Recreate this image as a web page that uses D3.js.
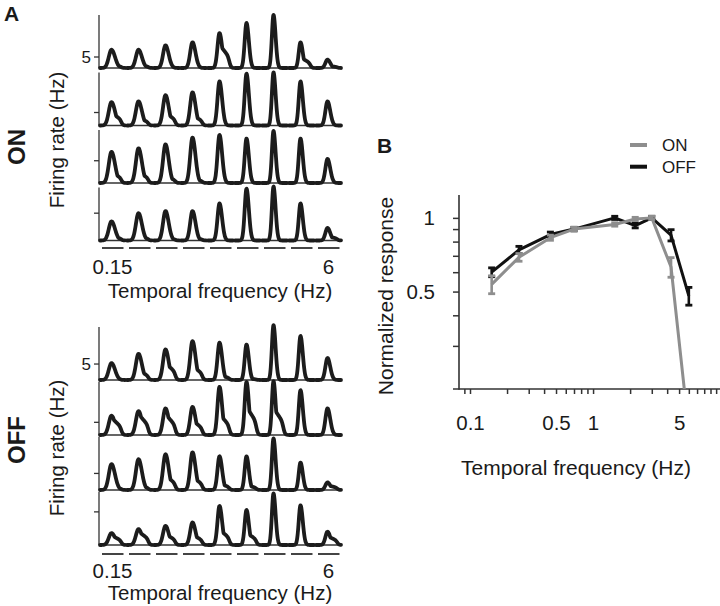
<!DOCTYPE html>
<html><head><meta charset="utf-8">
<script src="https://cdn.jsdelivr.net/npm/d3@7"></script>
<style>
body{margin:0;background:#fff}
svg{display:block}
text{font-family:"Liberation Sans",Arial,Helvetica,sans-serif;fill:#1a1a1a}
</style>
</head><body>
<svg id="c" width="720" height="606"></svg>
<script>
// ---------- Panel A data (cycle-averaged firing rate, Hz) ----------
const cycleFreqLabels = ["0.15", "6"];          // first and last stimulus frequency
const nCycles = 9;
const onPeaks = [
  [8.3, 8.3, 10.3, 11.7, 15.9, 20.5, 24.2, 11.7, 3.8],
  [9.0, 9.3, 11.7, 12.8, 17.0, 20.0, 20.5, 17.0, 9.3],
  [7.0, 7.8, 8.7, 10.2, 10.8, 10.0, 11.7, 10.0, 5.4],
  [3.5, 5.0, 5.4, 5.4, 6.8, 9.5, 9.9, 6.8, 2.3]
];
const onShoulders = [
  [1.5, 1.5, 0, 0, 11, 0, 0, 5, 1],
  [5, 3, 5, 4, 0, 0, 0, 0, 0],
  [2.5, 2.5, 1.5, 1, 0, 0, 0, 0, 0],
  [0.8, 0.8, 0.5, 0.5, 0, 0, 0, 0, 0.8]
];
const onRowMaxHz = [24.1, 20.4, 11.9, 9.7];
const offPeaks = [
  [5.3, 8.2, 9.6, 12.2, 11.7, 11.1, 17.2, 13.8, 6.9],
  [7.6, 9.4, 10.5, 11.1, 19.0, 21.0, 21.3, 17.7, 10.5],
  [7.8, 9.3, 10.8, 11.4, 10.2, 10.2, 15.6, 8.3, 2.3],
  [1.8, 2.4, 2.9, 3.4, 5.9, 5.3, 7.8, 6.0, 2.0]
];
const offShoulders = [
  [0, 3, 5.5, 4.5, 1.5, 0.5, 0, 0, 0],
  [7, 8.5, 8.5, 6, 8.5, 11.5, 11, 0, 0],
  [1, 1.5, 4.5, 4, 2, 1.5, 0, 0, 1.5],
  [1.5, 2.1, 1.7, 1.6, 2.4, 1.9, 0, 0, 1.4]
];
const offRowMaxHz = [16.6, 20.9, 16.0, 8.0];
const rowTickHz = 5;

// ---------- Panel B data (normalized response) ----------
const freqs   = [0.15, 0.25, 0.45, 0.7, 1.5, 2.2, 3, 4.3, 6];
const onMean  = [0.535, 0.69, 0.83, 0.90, 0.94, 0.99, 1.0, 0.63, 0.135];
const onErr   = [0.045, 0.025, 0.02, 0.015, 0.015, 0.015, 0.015, 0.058, 0.02];
const offMean = [0.60, 0.74, 0.855, 0.90, 1.0, 0.93, 1.0, 0.85, 0.48];
const offErr  = [0.025, 0.025, 0.02, 0.015, 0.015, 0.02, 0.015, 0.045, 0.04];
const bYTicks = [0.3, 0.4, 0.5, 0.6, 0.7, 0.8, 0.9, 1];
const bYLabels = [0.5, 1];
const bXTicks = [0.09, 0.1, 0.2, 0.3, 0.4, 0.5, 0.6, 0.7, 0.8, 0.9, 1, 2, 3, 4, 5, 6, 7, 8, 9, 10];
const bXLabels = [0.1, 0.5, 1, 5];
const legendItems = ["ON", "OFF"];

// ---------- drawing ----------
const svg = d3.select("#c");
const ink = "#1c1c1c", axisCol = "#333";

// Panel A
const xA = d3.scaleBand().domain(d3.range(nCycles)).range([99, 342]).paddingInner(0);
const sigL = [2.7, 2.6, 2.45, 2.3, 2.0, 1.8, 1.6, 1.75, 2.1];

function cyclePoints(i, peak, sh, y) {
  const b = xA(i), c = b + 12.5, sL = sigL[i], sR = sL * 1.3;
  const pts = [];
  for (let x = b + 1; x <= b + xA.bandwidth() - 1; x += 0.25) {
    let v;
    if (x < c) v = peak * Math.exp(-0.5 * ((x - c) / sL) ** 2);
    else {
      const g = peak * Math.exp(-0.5 * ((x - c) / sR) ** 2);
      const s = sh * Math.exp(-(x - c) / 14) / (1 + Math.exp((x - (c + 10)) / 0.9));
      v = Math.max(g, s);
    }
    pts.push([x, y(v)]);
  }
  return pts;
}

function drawBlock(peaks, shoulders, rowMax, base0, step, opts) {
  const g = svg.append("g");
  const line = d3.line().curve(d3.curveBasis);
  peaks.forEach((row, r) => {
    const base = base0 + r * step;
    const y = d3.scaleLinear().domain([0, rowMax[r]]).range([base, base - 53]);
    g.append("line").attr("x1", 99).attr("x2", 99).attr("y1", base - 53).attr("y2", base)
      .attr("stroke", axisCol).attr("stroke-width", 1.3);
    g.append("line").attr("x1", 99).attr("x2", 342).attr("y1", base).attr("y2", base)
      .attr("stroke", axisCol).attr("stroke-width", 1.5);
    g.append("line").attr("x1", 94).attr("x2", 99).attr("y1", y(rowTickHz)).attr("y2", y(rowTickHz))
      .attr("stroke", axisCol).attr("stroke-width", 1.3);
    if (r === 0) {
      g.append("text").attr("x", 91).attr("y", y(rowTickHz)).attr("dy", "0.36em")
        .attr("text-anchor", "end").style("font-size", "17px").text(rowTickHz);
    }
    row.forEach((p, i) => {
      g.append("path").attr("d", line(cyclePoints(i, p, shoulders[r][i], y)))
        .attr("fill", "none").attr("stroke", ink).attr("stroke-width", 3.8)
        .attr("stroke-linejoin", "round").attr("stroke-linecap", "round");
    });
  });
  d3.range(nCycles).forEach(i => {
    g.append("line").attr("x1", xA(i) + 3).attr("x2", xA(i) + 24.5)
      .attr("y1", opts.dashY).attr("y2", opts.dashY).attr("stroke", "#444").attr("stroke-width", 2);
  });
  g.append("text").attr("x", xA(0) + 13.5).attr("y", opts.tickY).attr("text-anchor", "middle")
    .style("font-size", "20.5px").text(cycleFreqLabels[0]);
  g.append("text").attr("x", xA(nCycles - 1) + 13.5).attr("y", opts.tickY).attr("text-anchor", "middle")
    .style("font-size", "20.5px").text(cycleFreqLabels[1]);
  g.append("text").attr("x", 220).attr("y", opts.xlabY).attr("text-anchor", "middle")
    .style("font-size", "20.5px").text("Temporal frequency (Hz)");
  g.append("text").attr("transform", `translate(64,${opts.ylabY}) rotate(-90)`).attr("text-anchor", "middle")
    .style("font-size", "20.5px").text("Firing rate (Hz)");
  g.append("text").attr("transform", `translate(25,${opts.nameY}) rotate(-90)`).attr("text-anchor", "middle")
    .style("font-size", "24px").style("font-weight", "bold").text(opts.name);
}

drawBlock(onPeaks, onShoulders, onRowMaxHz, 68, 57.5,
  {dashY: 248, tickY: 274, xlabY: 298, ylabY: 140, nameY: 147, name: "ON"});
drawBlock(offPeaks, offShoulders, offRowMaxHz, 380, 55,
  {dashY: 554, tickY: 578, xlabY: 600, ylabY: 448, nameY: 440, name: "OFF"});

svg.append("text").attr("x", 4).attr("y", 21).style("font-size", "21px").style("font-weight", "bold").text("A");

// Panel B
const xB = d3.scaleLog().domain([0.0814, 10.75]).range([459, 720]);
const yB = d3.scaleLog().domain([0.2, 1.24]).range([389, 195]);
const gB = svg.append("g");

svg.append("defs").append("clipPath").attr("id", "clipB")
  .append("rect").attr("x", 459).attr("y", 150).attr("width", 261).attr("height", 239);

const yAx = gB.append("g").attr("transform", "translate(459,0)")
  .call(d3.axisLeft(yB).tickValues(bYTicks).tickSize(6).tickPadding(18)
    .tickFormat(d => bYLabels.includes(d) ? String(d) : ""));
const xAx = gB.append("g").attr("transform", "translate(0,389)")
  .call(d3.axisBottom(xB).tickValues(bXTicks).tickSize(5).tickPadding(21)
    .tickFormat(d => bXLabels.includes(d) ? String(d) : ""));
[yAx, xAx].forEach(a => {
  a.select(".domain").remove();
  a.selectAll(".tick line").attr("stroke", axisCol).attr("stroke-width", 1.5);
  a.selectAll("text").style("font-size", "20.5px").attr("fill", "#1a1a1a")
    .style("font-family", '"Liberation Sans",Arial,sans-serif');
});
gB.append("line").attr("x1", 459).attr("x2", 459).attr("y1", 195).attr("y2", 389.8)
  .attr("stroke", axisCol).attr("stroke-width", 1.6);
gB.append("line").attr("x1", 453).attr("x2", 720).attr("y1", 389).attr("y2", 389)
  .attr("stroke", axisCol).attr("stroke-width", 1.6);

const series = [
  {name: "OFF", mean: offMean, err: offErr, color: "#111"},
  {name: "ON", mean: onMean, err: onErr, color: "#8e8e8e"}
];
const plot = gB.append("g").attr("clip-path", "url(#clipB)");
const lineB = d3.line().x((d, i) => xB(freqs[i])).y(d => yB(d));
series.forEach(s => {
  plot.append("path").attr("d", lineB(s.mean)).attr("fill", "none")
    .attr("stroke", s.color).attr("stroke-width", 3).attr("stroke-linejoin", "round");
  s.mean.forEach((m, i) => {
    const x = xB(freqs[i]), y1 = yB(m - s.err[i]), y2 = yB(m + s.err[i]);
    plot.append("line").attr("x1", x).attr("x2", x).attr("y1", y1).attr("y2", y2)
      .attr("stroke", s.color).attr("stroke-width", 2.6);
    [y1, y2].forEach(yy => plot.append("line").attr("x1", x - 3.5).attr("x2", x + 3.5)
      .attr("y1", yy).attr("y2", yy).attr("stroke", s.color).attr("stroke-width", 2.8));
  });
});

const legColor = {ON: "#8e8e8e", OFF: "#111"};
legendItems.forEach((name, i) => {
  const y = 145 + i * 21.7;
  gB.append("line").attr("x1", 630).attr("x2", 647).attr("y1", y).attr("y2", y)
    .attr("stroke", legColor[name]).attr("stroke-width", 4);
  gB.append("text").attr("x", 662).attr("y", y).attr("dy", "0.36em")
    .style("font-size", "17px").text(name);
});

gB.append("text").attr("transform", "translate(393,296) rotate(-90)").attr("text-anchor", "middle")
  .style("font-size", "21px").text("Normalized response");
gB.append("text").attr("x", 576).attr("y", 475).attr("text-anchor", "middle")
  .style("font-size", "21px").text("Temporal frequency (Hz)");
svg.append("text").attr("x", 377).attr("y", 153).style("font-size", "21px").style("font-weight", "bold").text("B");
</script>
</body></html>
